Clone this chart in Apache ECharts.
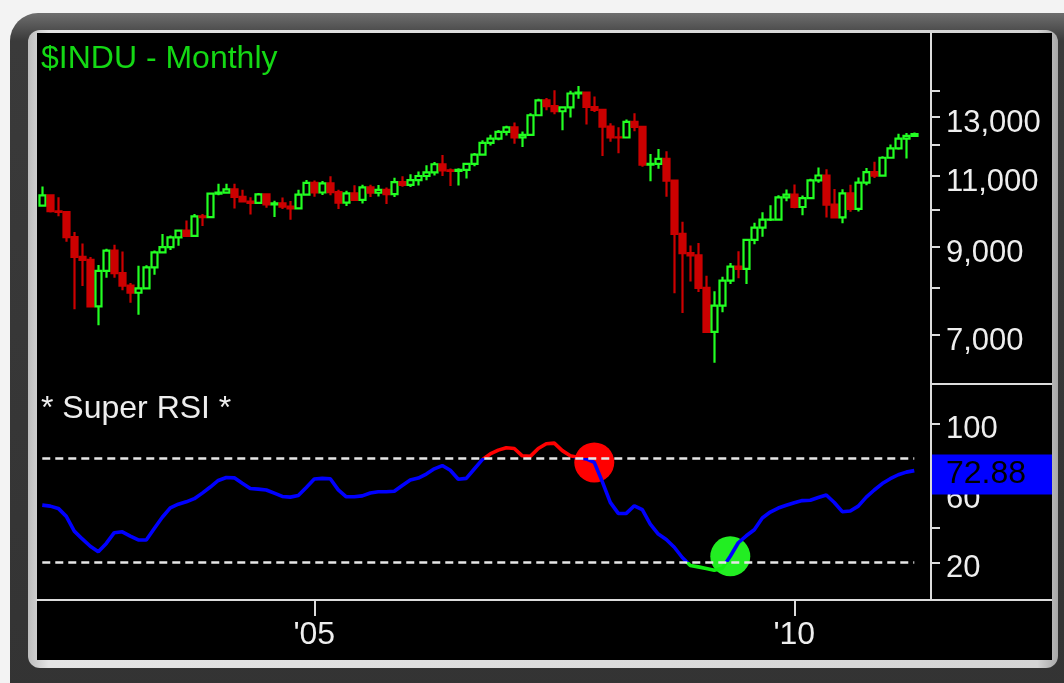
<!DOCTYPE html>
<html>
<head>
<meta charset="utf-8">
<title>$INDU - Monthly</title>
<script src="https://cdn.jsdelivr.net/npm/echarts@6/dist/echarts.min.js"></script>
<style>
    html, body { margin: 0; padding: 0; background: #f3f3f3; overflow: hidden; }
    #frame { position: absolute; left: 10px; top: 13px; width: 1090px; height: 700px; border-radius: 28px;
             background: linear-gradient(#6e6e6e, #3a3a3a 4%, #333 100%); }
    #bevel { position: absolute; left: 28px; top: 30px; width: 1030px; height: 638px; border-radius: 12px;
             background: linear-gradient(90deg, #bdbdbd, #e4e4e4 2%, #d4d4d4 98%, #a8a8a8); }
    #screen { position: absolute; left: 37px; top: 33px; width: 1015px; height: 627px; background: #000; }
    #chart { position: absolute; left: 0; top: 0; width: 1064px; height: 683px; }
</style>
</head>
<body>
<div id="frame"></div>
<div id="bevel"></div>
<div id="screen"></div>
<div id="chart"></div>
<script>
    // monthly bars, Mar 2002 .. Apr 2011 (last bar is a partial month)
    var opens = [
        10106, 10404, 9946, 9925, 9243, 8737, 8664, 7592, 8397, 8896,
        8342, 8054, 7891, 7992, 8480, 8850, 8985, 9234, 9416, 9275, 9801, 9782,
        10454, 10488, 10584, 10358, 10226, 10188, 10435, 10140, 10174, 10080, 10027, 10428,
        10783, 10490, 10766, 10504, 10193, 10467, 10275, 10641, 10482, 10569, 10440, 10806,
        10718, 10865, 10993, 11109, 11367, 11168, 11150, 11186, 11381, 11679, 12081, 12222,
        12463, 12622, 12269, 12354, 13063, 13628, 13409, 13212, 13358, 13896, 13930, 13372,
        13265, 12650, 12266, 12263, 12820, 12638, 11350, 11378, 11544, 10851, 9325, 8829,
        8776, 8001, 7063, 7609, 8168, 8500, 8447, 9172, 9496, 9712, 9713, 10345,
        10428, 10067, 10325, 10857, 11009, 10137, 9774, 10466, 10015, 10788, 11118, 11006,
        11578, 11892, 12226, 12320
    ];
    var highs = [
        10673, 10404, 10353, 9939, 9380, 9077, 8734, 8539, 8944, 9044,
        8869, 8111, 8522, 8531, 8898, 9323, 9285, 9428, 9686, 9870, 9872, 10458,
        10754, 10754, 10753, 10570, 10352, 10479, 10440, 10250, 10343, 10239, 10572, 10868,
        10854, 10841, 10984, 10573, 10542, 10705, 10720, 10720, 10719, 10640, 10940, 10985,
        11048, 11138, 11331, 11436, 11671, 11229, 11234, 11409, 11739, 12167, 12361, 12529,
        12680, 12795, 12477, 13138, 13692, 13723, 14022, 13398, 14003, 14198, 13975, 13773,
        13279, 12767, 12622, 12904, 13136, 12650, 11698, 11867, 11790, 10882, 9654, 9026,
        9088, 8281, 7925, 8256, 8588, 8878, 9173, 9630, 9917, 10119, 10406, 10580,
        10729, 10402, 10907, 11258, 11205, 10595, 10584, 10720, 10948, 11245, 11451, 11625,
        12021, 12391, 12419, 12440
    ];
    var lows = [
        10090, 9913, 9809, 9120, 7532, 8044, 7592, 7197, 8237, 8232,
        7946, 7673, 7416, 7991, 8305, 8835, 8912, 9015, 9247, 9269, 9536, 9762,
        10409, 10460, 10023, 10213, 9853, 10181, 10045, 9785, 10013, 9709, 10024, 10391,
        10368, 10414, 10405, 10013, 10094, 10267, 10164, 10360, 10370, 10156, 10354, 10666,
        10658, 10700, 10864, 11007, 10996, 10683, 10699, 10917, 11300, 11652, 11986, 12164,
        12330, 12050, 11939, 12335, 13030, 13248, 13100, 12518, 12979, 13694, 12725, 13181,
        11635, 12112, 11731, 12263, 12480, 11288, 10827, 11221, 10365, 7882, 7449, 8149,
        7909, 7050, 6470, 7466, 8088, 8221, 8087, 9057, 9253, 9674, 9679, 10235,
        10029, 9835, 10307, 10782, 9774, 9757, 9614, 9931, 9941, 10711, 10929, 11004,
        11576, 11840, 11555, 12300
    ];
    var closes = [
        10404, 9946, 9925, 9243, 8737, 8664, 7592, 8397, 8896, 8342,
        8054, 7891, 7992, 8480, 8850, 8985, 9234, 9416, 9275, 9801, 9782, 10454,
        10488, 10584, 10358, 10226, 10188, 10435, 10140, 10174, 10080, 10027, 10428, 10783,
        10490, 10766, 10504, 10193, 10467, 10275, 10641, 10482, 10569, 10440, 10806, 10718,
        10865, 10993, 11109, 11367, 11168, 11150, 11186, 11381, 11679, 12081, 12222, 12463,
        12622, 12269, 12354, 13063, 13628, 13409, 13212, 13358, 13896, 13930, 13372, 13265,
        12650, 12266, 12263, 12820, 12638, 11350, 11378, 11544, 10851, 9325, 8829, 8776,
        8001, 7063, 7609, 8168, 8500, 8447, 9172, 9496, 9712, 9713, 10345, 10428,
        10067, 10325, 10857, 11009, 10137, 9774, 10466, 10015, 10788, 11118, 11006, 11578,
        11892, 12226, 12320, 12380
    ];

    // super rsi, one value per bar
    var rsi = [
        53.0, 52.4, 51.1, 46.5, 38.0, 33.5, 29.3, 26.1, 30.9, 37.1,
        37.6, 35.1, 32.9, 32.9, 39.5, 46.0, 51.4, 53.5, 54.9, 56.7,
        59.9, 63.4, 67.2, 68.9, 68.7, 65.6, 62.6, 62.2, 61.7, 59.9,
        58.0, 57.6, 58.5, 63.2, 68.0, 68.4, 68.2, 61.8, 57.8, 57.8,
        58.3, 60.0, 60.7, 60.7, 61.0, 64.3, 67.4, 68.6, 70.9, 73.9,
        75.8, 73.1, 67.9, 68.4, 73.8, 79.2, 82.5, 84.7, 86.1, 85.6,
        81.4, 81.1, 85.6, 88.4, 88.7, 84.4, 81.5, 80.4, 79.6, 77.6,
        66.5, 54.6, 48.2, 48.2, 52.6, 50.4, 42.1, 36.3, 33.2, 28.7,
        22.8, 18.2, 17.4, 16.5, 15.4, 16.6, 23.5, 31.3, 35.3, 38.8,
        45.6, 49.0, 51.3, 52.9, 54.4, 55.6, 55.8, 57.4, 58.8, 54.5,
        49.2, 49.6, 52.4, 57.6, 61.7, 65.4, 68.2, 70.5, 72.0, 72.88
    ];
    var rsiBands = [20, 80];
    var sellIdx = [69];
    var buyIdx = [86];

    // axis ticks
    var priceTicks = [7000, 8000, 9000, 10000, 11000, 12000, 13000, 14000];
    var priceLabels = [7000, 9000, 11000, 13000];
    var rsiTicks = [20, 40, 60, 80, 100];
    var rsiLabels = [20, 60, 100];
    var yearIdx = [34, 94];
    var yearLabels = ["'05", "'10"];

    var font = '"Liberation Sans", Arial, sans-serif';
    var axisGray = '#dcdcdc';
    var textGray = '#eeeeee';
    var xMin = -0.66, xMax = 111.09;

    var candles = opens.map((o, i) => [i, o, closes[i], lows[i], highs[i]]);
    var rsiData = rsi.map((v, i) => [i, v]);
    var last = rsi.length - 1;

    var chart = echarts.init(document.getElementById('chart'), null, { renderer: 'canvas' });

    var option = {
        animation: false,
        backgroundColor: 'transparent',
        title: [{
            text: '$INDU - Monthly',
            left: 41,
            top: 43,
            padding: 0,
            textStyle: { color: '#14d814', fontSize: 32, fontWeight: 'normal', fontFamily: font }
        }, {
            text: '* Super RSI *',
            left: 41,
            top: 393,
            padding: 0,
            textStyle: { color: textGray, fontSize: 32, fontWeight: 'normal', fontFamily: font }
        }],
        grid: [
            { left: 37, right: 133, top: 33, height: 351 },
            { left: 37, right: 133, top: 384, height: 216 }
        ],
        xAxis: [{
            type: 'value',
            gridIndex: 0,
            min: xMin,
            max: xMax,
            show: false
        }, {
            type: 'value',
            gridIndex: 1,
            min: xMin,
            max: xMax,
            splitLine: { show: false },
            axisLine: { onZero: false, lineStyle: { color: axisGray, width: 2 } },
            axisTick: { customValues: yearIdx, length: 16, lineStyle: { color: axisGray, width: 2 } },
            axisLabel: {
                customValues: yearIdx,
                formatter: v => yearLabels[yearIdx.indexOf(Math.round(v))],
                color: textGray,
                fontSize: 32,
                fontFamily: font,
                margin: 19
            }
        }],
        yAxis: [{
            type: 'log',
            gridIndex: 0,
            position: 'right',
            min: 6090,
            max: 16500,
            splitLine: { show: false },
            axisLine: { show: true, onZero: false, lineStyle: { color: axisGray, width: 2 } },
            axisTick: { show: true, customValues: priceTicks, length: 9, lineStyle: { color: axisGray, width: 2 } },
            axisLabel: {
                customValues: priceLabels,
                formatter: v => Math.round(v).toLocaleString('en-US'),
                color: textGray,
                fontSize: 31,
                fontFamily: font,
                margin: 15,
                verticalAlign: 'top',
                lineHeight: 13
            }
        }, {
            type: 'value',
            gridIndex: 1,
            position: 'right',
            min: -1.7,
            max: 122.8,
            splitLine: { show: false },
            axisLine: { show: true, onZero: false, lineStyle: { color: axisGray, width: 2 } },
            axisTick: { show: true, customValues: rsiTicks, length: 9, lineStyle: { color: axisGray, width: 2 } },
            axisLabel: {
                customValues: rsiLabels,
                color: textGray,
                fontSize: 31,
                fontFamily: font,
                margin: 15,
                verticalAlign: 'top',
                lineHeight: 12
            }
        }],
        visualMap: {
            show: false,
            type: 'piecewise',
            seriesIndex: 1,
            dimension: 1,
            pieces: [
                { gt: 80, color: '#ff0000' },
                { gte: 20, lte: 80, color: '#0000ff' },
                { lt: 20, color: '#11ee11' }
            ]
        },
        series: [{
            type: 'candlestick',
            xAxisIndex: 0,
            yAxisIndex: 0,
            dimensions: ['idx', 'open', 'close', 'lowest', 'highest'],
            encode: { x: 'idx', y: ['open', 'close', 'lowest', 'highest'] },
            data: candles,
            barWidth: 6.4,
            itemStyle: {
                color: '#000000',
                color0: '#cc0000',
                borderColor: '#22ff22',
                borderColor0: '#cc0000',
                borderWidth: 2.2
            }
        }, {
            type: 'line',
            xAxisIndex: 1,
            yAxisIndex: 1,
            data: rsiData,
            showSymbol: false,
            clip: false,
            z: 4,
            lineStyle: { width: 3.6 },
            markLine: {
                silent: true,
                symbol: 'none',
                label: { show: false },
                lineStyle: { color: '#e6e6e6', type: [8, 5], width: 2.6 },
                data: rsiBands.map(b => [{ coord: [0, b] }, { coord: [last, b] }])
            },
            markPoint: {
                silent: true,
                symbol: 'rect',
                symbolSize: [120, 40],
                symbolOffset: [77.7, 4],
                itemStyle: { color: '#0000ff' },
                label: {
                    show: true,
                    position: 'inside',
                    offset: [-6, 0],
                    formatter: p => p.value.toFixed(2),
                    color: '#000000',
                    fontSize: 32,
                    fontFamily: font
                },
                data: [{ coord: [last, rsi[last]], value: rsi[last] }]
            }
        }, {
            type: 'scatter',
            xAxisIndex: 1,
            yAxisIndex: 1,
            z: 1,
            symbolSize: 40,
            itemStyle: { color: '#ff0000', opacity: 1 },
            data: sellIdx.map(i => [i, rsi[i]])
        }, {
            type: 'scatter',
            xAxisIndex: 1,
            yAxisIndex: 1,
            z: 1,
            symbolSize: 40,
            itemStyle: { color: '#22ee22', opacity: 1 },
            data: buyIdx.map(i => [i, rsi[i]])
        }],
        graphic: [{
            type: 'line',
            silent: true,
            shape: { x1: 931, y1: 384, x2: 1052, y2: 384 },
            style: { stroke: axisGray, lineWidth: 2 }
        }, {
            type: 'line',
            silent: true,
            shape: { x1: 931, y1: 600, x2: 1052, y2: 600 },
            style: { stroke: axisGray, lineWidth: 2 }
        }]
    };

    chart.setOption(option);

    window.onresize = function() {
        chart.resize();
    }
</script>
</body>
</html>
